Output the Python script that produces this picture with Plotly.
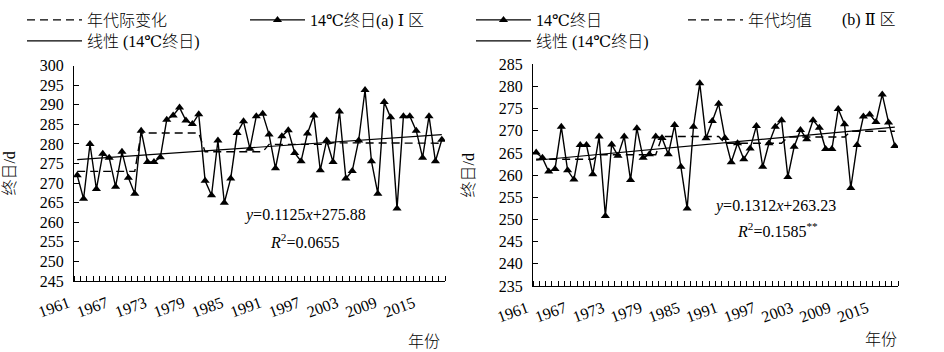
import plotly.graph_objects as go

W, H = 944, 352

years = list(range(1961, 2019))

# Panel (a) I 区: 14℃终日
end_a = [272.0, 266.0, 280.0, 268.5, 277.5, 276.5, 269.1, 278.0, 271.4, 267.3,
         283.4, 275.4, 275.4, 276.6, 286.2, 287.3, 289.3, 286.0, 285.1, 287.6,
         270.6, 266.9, 280.9, 265.0, 271.2, 282.8, 285.8, 278.8, 287.1, 287.7,
         282.4, 273.8, 282.0, 283.5, 277.7, 275.6, 282.7, 287.3, 273.3, 280.9,
         275.4, 288.3, 271.2, 273.1, 280.9, 293.8, 275.6, 267.3, 290.7, 286.8,
         263.5, 287.1, 287.1, 283.4, 276.5, 287.1, 275.6, 281.1]
decade_a = [273.0, 282.8, 278.0, 279.9, 280.3, 280.2]
slope_a, icpt_a = 0.1125, 275.88

# Panel (b) II 区: 14℃终日
end_b = [265.1, 263.9, 260.8, 261.4, 270.9, 261.1, 259.0, 266.8, 266.8, 260.2,
         268.7, 250.8, 266.9, 264.4, 268.7, 258.9, 270.6, 263.9, 264.7, 268.7,
         268.4, 264.7, 271.3, 261.9, 252.5, 270.9, 280.7, 268.3, 272.2, 276.1,
         268.4, 262.9, 267.2, 263.6, 266.0, 271.1, 261.9, 267.2, 270.9, 272.4,
         259.6, 266.4, 270.2, 268.1, 272.4, 270.7, 265.9, 265.9, 274.9, 271.5,
         257.1, 266.8, 273.2, 273.7, 272.0, 278.2, 271.9, 266.6]
decade_b = [263.6, 264.6, 268.7, 267.2, 268.6, 269.9]
slope_b, icpt_b = 0.1312, 263.23

label_years = [1961, 1967, 1973, 1979, 1985, 1991, 1997, 2003, 2009, 2015]
ytick_a = list(range(245, 301, 5))
ytick_b = list(range(235, 286, 5))

FONT = "Liberation Serif, DejaVu Serif, Noto Sans CJK SC, serif"


def px(x):
    return x / W


def py(y):
    return 1 - y / H


idx = list(range(1, len(years) + 1))
trend_a = [slope_a * i + icpt_a for i in idx]
trend_b = [slope_b * i + icpt_b for i in idx]
dec_a_line = [decade_a[(y - 1961) // 10] for y in years]
dec_b_line = [decade_b[(y - 1961) // 10] for y in years]

fig = go.Figure()

line_style = dict(color="black", width=1.4)
mk = dict(symbol="triangle-up", size=8, color="black")
dash_style = dict(color="black", width=1.4, dash="8px,5px")
trend_style = dict(color="black", width=1.2)

# panel a
fig.add_trace(go.Scatter(x=years, y=dec_a_line, mode="lines", line=dash_style,
                         name="年代际变化", xaxis="x", yaxis="y", legend="legend"))
fig.add_trace(go.Scatter(x=years, y=end_a, mode="lines+markers", line=line_style, marker=mk,
                         name="14℃终日(a) Ⅰ 区", xaxis="x", yaxis="y", legend="legend2"))
fig.add_trace(go.Scatter(x=years, y=trend_a, mode="lines", line=trend_style,
                         name="线性 (14℃终日)", xaxis="x", yaxis="y", legend="legend3"))
# panel b
fig.add_trace(go.Scatter(x=years, y=end_b, mode="lines+markers", line=line_style, marker=mk,
                         name="14℃终日", xaxis="x2", yaxis="y2", legend="legend4"))
fig.add_trace(go.Scatter(x=years, y=dec_b_line, mode="lines", line=dash_style,
                         name="年代均值", xaxis="x2", yaxis="y2", legend="legend5"))
fig.add_trace(go.Scatter(x=years, y=trend_b, mode="lines", line=trend_style,
                         name="线性 (14℃终日)", xaxis="x2", yaxis="y2", legend="legend6"))

BASEFONT = dict(family=FONT, size=16, color="black", weight=300)

xcommon = dict(
    range=[1960.5, 2018.5], tickmode="array", tickvals=label_years,
    ticktext=[str(v) for v in label_years], tickangle=-20, ticks="",
    showline=True, linecolor="black", linewidth=1.2, showgrid=False, zeroline=False,
    minor=dict(tick0=1960.5, dtick=1, ticks="inside", ticklen=5, tickcolor="black", tickwidth=1),
    ticklabelshift=-9, ticklabelstandoff=6, automargin=False,
    tickfont=BASEFONT,
)
ycommon = dict(
    dtick=5, ticks="inside", ticklen=5, tickcolor="black", tickwidth=1,
    showline=True, linecolor="black", linewidth=1.2, showgrid=False, zeroline=False,
    tickfont=BASEFONT, ticklabelstandoff=6, automargin=False,
    title=dict(text="终日/d", font=BASEFONT, standoff=20),
)

fig.update_layout(
    width=W, height=H, margin=dict(l=0, r=0, t=0, b=0, autoexpand=False),
    paper_bgcolor="white", plot_bgcolor="white",
    font=BASEFONT,
    xaxis=dict(domain=[px(74), px(445)], anchor="y", **xcommon),
    yaxis=dict(domain=[py(281), py(65.7)], anchor="x", range=[245, 300], tickvals=ytick_a, **ycommon),
    xaxis2=dict(domain=[px(533), px(898)], anchor="y2", **xcommon),
    yaxis2=dict(domain=[py(286), py(64.3)], anchor="x2", range=[235, 285], tickvals=ytick_b, **ycommon),
    showlegend=True,
)

leg_common = dict(orientation="h", bgcolor="rgba(0,0,0,0)", itemwidth=55,
                  font=BASEFONT, yanchor="middle",
                  xanchor="left", itemclick=False, itemdoubleclick=False)
leg_pos = {
    "legend": (22, 20), "legend2": (245, 20), "legend3": (22, 41),
    "legend4": (471, 20), "legend5": (683, 20), "legend6": (471, 41),
}
for name, (lx, ly) in leg_pos.items():
    fig.update_layout({name: dict(x=px(lx), y=py(ly), **leg_common)})

anns = [
    ("<i>y</i>=0.1125<i>x</i>+275.88", 305, 215),
    ("<i>R</i><sup>2</sup>=0.0655", 304, 241),
    ("<i>y</i>=0.1312<i>x</i>+263.23", 775, 206),
    ("<i>R</i><sup>2</sup>=0.1585<sup>**</sup>", 777, 230),
    ("年份", 424, 341),
    ("年份", 881, 339),
    ("(b) Ⅱ 区", 869, 20),
]
for text, ax, ay in anns:
    fig.add_annotation(text=text, x=px(ax), y=py(ay), xref="paper", yref="paper",
                       showarrow=False, font=BASEFONT, xanchor="center", yanchor="middle")

fig.write_html("out.html")
